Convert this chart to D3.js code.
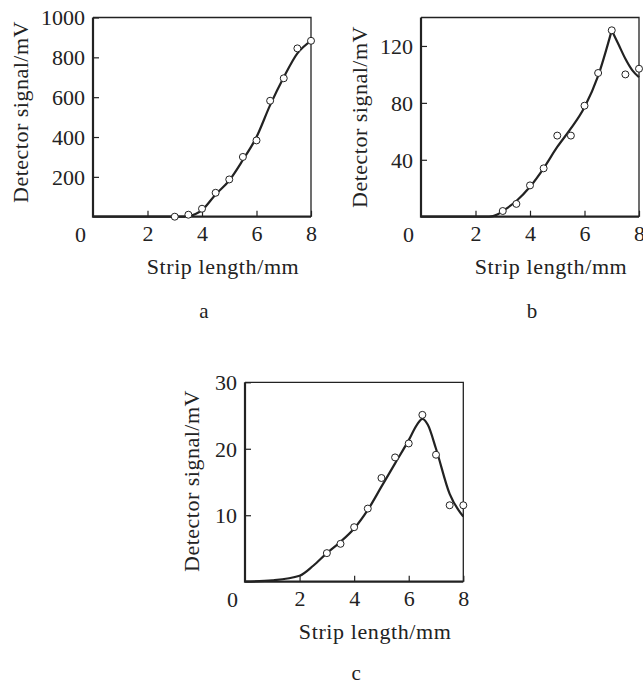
<!DOCTYPE html>
<html>
<head>
<meta charset="utf-8">
<script src="https://cdn.jsdelivr.net/npm/d3@7"></script>
<style>
  body { margin: 0; background: #fff; }
  svg { display: block; }
</style>
</head>
<body>
<div id="chart"></div>
<script>
// measured points, shared strip lengths (mm)
const stripLength = [3, 3.5, 4, 4.5, 5, 5.5, 6, 6.5, 7, 7.5, 8];
const signalA = [0, 10, 40, 120, 187, 300, 383, 582, 695, 845, 883];
const signalB = [4, 9, 22, 34, 57, 57, 78, 101, 131, 100, 104];
const signalC = [4.3, 5.7, 8.2, 11, 15.6, 18.7, 20.8, 25.1, 19.1, 11.5, 11.5];

// fitted curves
const fitAX = [0, 3.2, 3.5, 4, 4.5, 5, 5.5, 6, 6.5, 7, 7.5, 8];
const fitAY = [0, 0, 3, 33, 112, 182, 285, 400, 560, 700, 820, 883];
const fitBRiseX = [0, 2.5, 2.8, 3, 3.5, 4, 4.5, 5, 5.5, 6, 6.5, 7];
const fitBRiseY = [0, 0, 1.5, 4, 11, 21, 34, 49, 62, 77, 99, 131];
const fitBFallX = [7, 7.25, 7.5, 7.75, 8];
const fitBFallY = [131, 121, 111, 103, 98];
const fitCX = [0, 1, 2, 2.5, 3, 3.5, 4, 4.5, 5, 5.5, 6, 6.3, 6.5, 6.7, 7, 7.5, 8];
const fitCY = [0, 0.2, 0.9, 2.4, 4.3, 6, 8, 10.8, 14.3, 17.8, 21.3, 23.6, 24.5, 23.6, 20, 13.2, 9.8];

const xTicks = [2, 4, 6, 8];
const yTicksA = [200, 400, 600, 800, 1000];
const yTicksB = [40, 80, 120];
const yTicksC = [10, 20, 30];

const xTitle = "Strip length/mm";
const yTitle = "Detector signal/mV";

const width = 643, height = 684;
const font = "'Liberation Serif', 'Times New Roman', serif";
const ink = "#222";

const svg = d3.select("#chart").append("svg")
    .attr("width", width)
    .attr("height", height)
    .style("font-family", font);

svg.append("rect").attr("width", width).attr("height", height).attr("fill", "#fff");

const zip = (xs, ys) => xs.map((x, i) => [x, ys[i]]);

const panels = [
    {name: "a", left: 93, right: 311, top: 17.5, bottom: 216.7, yMax: 1000, yTicks: yTicksA,
     points: signalA, fits: [zip(fitAX, fitAY)], yLabelX: 28, yLabelY: 112, tag: 318},
    {name: "b", left: 421, right: 639, top: 17.5, bottom: 216.7, yMax: 140, yTicks: yTicksB,
     points: signalB, fits: [zip(fitBRiseX, fitBRiseY), zip(fitBFallX, fitBFallY)], yLabelX: 367, yLabelY: 117, tag: 318},
    {name: "c", left: 245, right: 463.3, top: 382.3, bottom: 581.7, yMax: 30, yTicks: yTicksC,
     points: signalC, fits: [zip(fitCX, fitCY)], yLabelX: 199, yLabelY: 481, tag: 680}
];

panels.forEach(drawPanel);

function drawPanel(p) {
    const x = d3.scaleLinear().domain([0, 8]).range([p.left, p.right]);
    const y = d3.scaleLinear().domain([0, p.yMax]).range([p.bottom, p.top]);
    const g = svg.append("g");

    // axes with inward ticks
    const xAxis = g.append("g")
        .attr("transform", `translate(0,${p.bottom})`)
        .call(d3.axisBottom(x).tickValues(xTicks).tickSize(-6).tickPadding(9).tickFormat(d3.format("d")));
    const yAxis = g.append("g")
        .attr("transform", `translate(${p.left},0)`)
        .call(d3.axisLeft(y).tickValues(p.yTicks).tickSize(-6).tickPadding(8).tickFormat(d3.format("d")));
    [xAxis, yAxis].forEach(a => {
        a.select(".domain").remove();
        a.attr("font-family", null).attr("font-size", null);
        a.selectAll("line").attr("stroke", ink).attr("stroke-width", 1.2);
        a.selectAll("text").attr("fill", ink).style("font-size", "22px");
    });
    yAxis.selectAll("text").attr("dy", "0.34em");

    // frame: thin top/right, heavier left/bottom
    g.append("path")
        .attr("d", `M${p.left},${p.top}H${p.right}V${p.bottom}`)
        .attr("fill", "none").attr("stroke", ink).attr("stroke-width", 1.3);
    g.append("path")
        .attr("d", `M${p.left},${p.top}V${p.bottom}H${p.right}`)
        .attr("fill", "none").attr("stroke", ink).attr("stroke-width", 2.2);

    // shared origin label
    g.append("text")
        .attr("x", p.left - 12.5).attr("y", p.bottom + 25)
        .attr("text-anchor", "middle").attr("fill", ink)
        .style("font-size", "22px").text("0");

    // fitted curve
    const line = d3.line().x(d => x(d[0])).y(d => y(d[1])).curve(d3.curveMonotoneX);
    p.fits.forEach(f => {
        g.append("path").attr("d", line(f))
            .attr("fill", "none").attr("stroke", ink).attr("stroke-width", 2.2);
    });

    // measured points
    g.selectAll("circle").data(zip(stripLength, p.points)).join("circle")
        .attr("cx", d => x(d[0])).attr("cy", d => y(d[1])).attr("r", 3.5)
        .attr("fill", "#fff").attr("stroke", ink).attr("stroke-width", 1);

    // titles
    g.append("text")
        .attr("x", (p.left + p.right) / 2 + 21).attr("y", p.bottom + 57)
        .attr("text-anchor", "middle").attr("fill", ink)
        .style("font-size", "22px").style("letter-spacing", "0.6px").text(xTitle);
    g.append("text")
        .attr("transform", `translate(${p.yLabelX},${p.yLabelY}) rotate(-90)`)
        .attr("text-anchor", "middle").attr("fill", ink)
        .style("font-size", "22px").style("letter-spacing", "0.5px").text(yTitle);
    g.append("text")
        .attr("x", (p.left + p.right) / 2 + 2).attr("y", p.tag)
        .attr("text-anchor", "middle").attr("fill", ink)
        .style("font-size", "21px").text(p.name);
}
</script>
</body>
</html>
